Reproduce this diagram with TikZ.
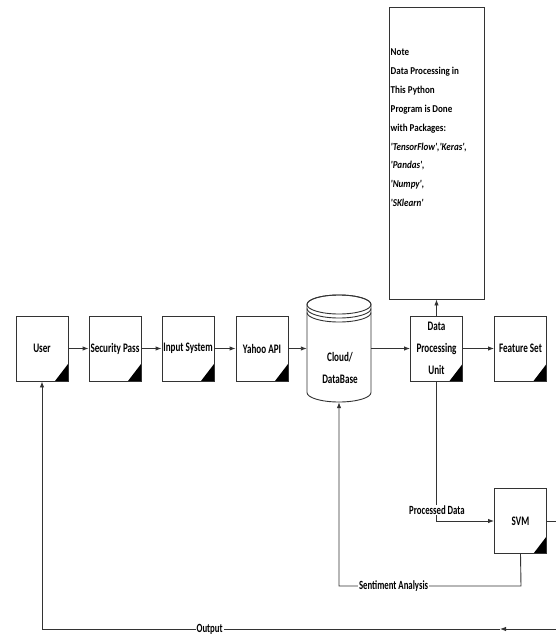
\documentclass[tikz,border=0pt]{standalone}
\usepackage{fontspec}
\setmainfont{Carlito}
\newfontfamily\labfont[FakeStretch=0.7]{Carlito}
\newfontfamily\notefont[FakeStretch=0.86]{Carlito}
\usetikzlibrary{arrows.meta}
\tikzset{
  blk/.style={draw=black!80, line width=0.9pt, fill=white, minimum width=52pt,
    minimum height=65pt, inner sep=0pt, align=center,
    font=\labfont\bfseries\fontsize{13}{22}\selectfont,
    path picture={\fill[black] (path picture bounding box.south east) -- ++(0pt,17pt) -- ++(-13pt,-17pt) -- cycle;}},
  ln/.style={draw=black!80, line width=0.9pt},
  arr/.style={ln, -{Latex[length=6pt,width=4.5pt]}},
  lbl/.style={fill=white, inner sep=1pt, font=\labfont\bfseries\fontsize{12.5}{14}\selectfont},
  notetxt/.style={inner sep=0pt, align=left, font=\notefont\bfseries\fontsize{10.5}{18.9}\selectfont},
}
\begin{document}
\begin{tikzpicture}[x=1pt,y=-1pt]
\useasboundingbox (0,0) rectangle (556,634);
% nodes
\node[blk] (user) at (42,348.5) {User};
\node[blk] (sec) at (115,348.5) {Security Pass};
\node[blk] (inp) at (188,348.5) {Input System};
\node[blk] (yahoo) at (262,348.5) {Yahoo API};
\node[blk] (dpu) at (436.5,348.5) {Data\\Processing\\Unit};
\node[blk] (feat) at (520.5,348.5) {Feature Set};
\node[blk] (svm) at (520.5,521) {SVM};
% cylinder
\node[minimum width=64pt, minimum height=107pt, inner sep=0pt] (db) at (339,348.5) {};
\draw[ln, fill=white] (307,304.5) -- (307,392.5)
  arc[start angle=180, end angle=360, x radius=32pt, y radius=9.5pt]
  -- (371,304.5)
  arc[start angle=0, end angle=180, x radius=32pt, y radius=9.5pt] -- cycle;
\draw[ln] (339,304.5) ellipse [x radius=32pt, y radius=9.5pt];
\draw[ln] (307,308.5) arc[start angle=180, end angle=360, x radius=32pt, y radius=9.5pt];
\draw[ln] (307,312.5) arc[start angle=180, end angle=360, x radius=32pt, y radius=9.5pt];
\node[inner sep=0pt, align=center, font=\labfont\bfseries\fontsize{13}{22}\selectfont] (dbtext) at (340,368) {Cloud/\\DataBase};
% note
\node[draw=black!80, line width=0.9pt, minimum width=95pt, minimum height=292pt, inner sep=0pt] (note) at (436.5,153) {};
\node[notetxt, anchor=north west] (notetext) at (390.5,48.5) {Note\\Data Processing in\\This Python\\Program is Done\\with Packages:\\\textit{'TensorFlow','Keras',}\\\textit{'Pandas',}\\\textit{'Numpy',}\\\textit{'SKlearn'}};
% coordinates
\coordinate (svmR) at (556,521);
\coordinate (outR) at (556,629);
\coordinate (outM) at (500,629);
\coordinate (saC) at (521,586);
% connectors
\draw[arr] (user) -- (sec);
\draw[arr] (sec) -- (inp);
\draw[arr] (inp) -- (yahoo);
\draw[arr] (yahoo) -- (db.west);
\draw[arr] (db.east) -- (dpu);
\draw[arr] (dpu) -- (feat);
\draw[arr] (dpu) -- (note);
\draw[arr] (dpu.south) |- (svm.west);
\node[lbl] (pdlab) at (437,510) {Processed Data};
\draw[ln] (svm.east) -- (svmR);
\draw[arr] (svm.south) -- (saC) -| node[lbl, pos=0.35] (salab) {Sentiment Analysis} (db.south);
\draw[arr] (outR) -- (outM);
\draw[arr] (outM) -| node[lbl, pos=0.317] (outlab) {Output} (user.south);
\end{tikzpicture}
\end{document}
